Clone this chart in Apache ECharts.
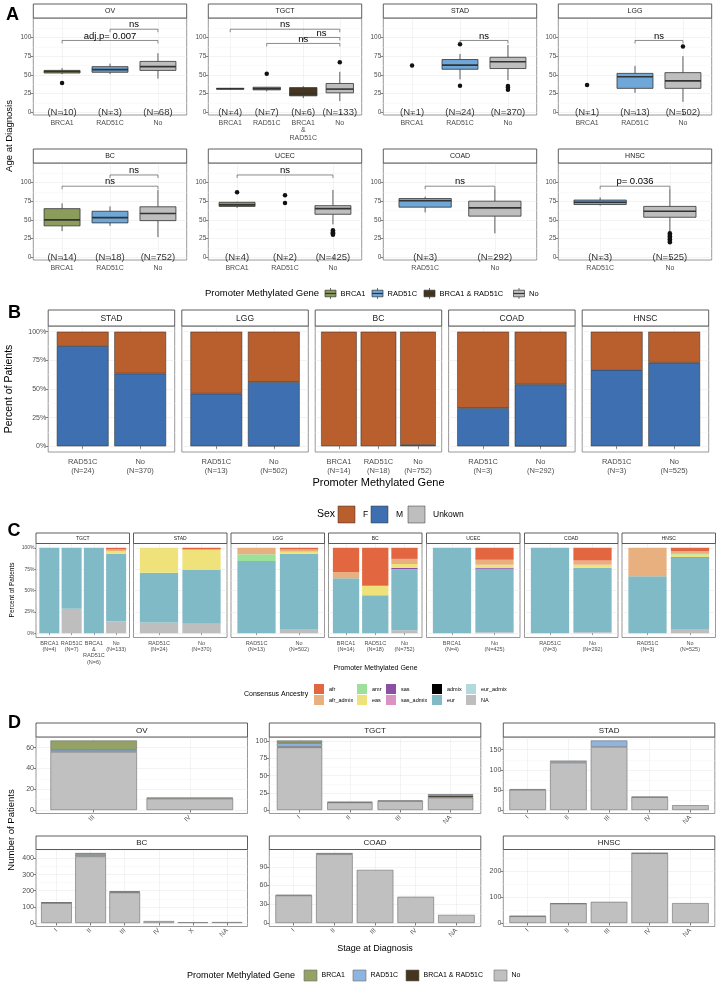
<!DOCTYPE html>
<html>
<head>
<meta charset="utf-8">
<title>Promoter methylation panels</title>
<script src="https://cdn.jsdelivr.net/npm/echarts@6.0.0/dist/echarts.min.js"></script>
<style>
  html, body { margin: 0; padding: 0; background: #fff; }
  #chart { width: 720px; height: 992px; }
</style>
</head>
<body>
<div id="chart"></div>
<script>
var FONT = '"Liberation Sans", Arial, Helvetica, sans-serif';

// ---------- A: age at diagnosis ----------
var ageFacets = ['OV', 'TGCT', 'STAD', 'LGG', 'BC', 'UCEC', 'COAD', 'HNSC'];
var ageGroups = [
  ['BRCA1', 'RAD51C', 'No'],
  ['BRCA1', 'RAD51C', 'BRCA1 & RAD51C', 'No'],
  ['BRCA1', 'RAD51C', 'No'],
  ['BRCA1', 'RAD51C', 'No'],
  ['BRCA1', 'RAD51C', 'No'],
  ['BRCA1', 'RAD51C', 'No'],
  ['RAD51C', 'No'],
  ['RAD51C', 'No']
];
var ageN = [[10, 3, 68], [4, 7, 6, 133], [1, 24, 370], [1, 13, 502], [14, 18, 752], [4, 2, 425], [3, 292], [3, 525]];
// [lower whisker, Q1, median, Q3, upper whisker]; null = only single points drawn
var ageBoxes = [
  [[51, 52.5, 54.5, 56, 59], [51, 53.5, 57, 61, 65], [45, 56, 61, 68, 79]],
  [[30.5, 31, 31.5, 32, 32.5], [28, 30, 31.5, 33.5, 34], [19, 22, 25, 33, 35], [15, 26, 31, 38.5, 54]],
  [null, [44, 57.5, 63, 70.5, 78], [43, 58.5, 67.5, 73.5, 90]],
  [null, [26, 32, 47.5, 52, 62], [14, 32, 42, 53, 75]],
  [[35, 42, 50, 65, 72], [42, 46, 53, 61.5, 68], [27, 49, 58.5, 67.5, 90]],
  [[66, 68, 70, 73.5, 74], null, [44, 57.5, 65, 69, 90]],
  [[60, 67, 75.5, 78.5, 81], [32, 55, 66, 75, 91]],
  [[69, 70.5, 73.5, 76.5, 80], [34, 53.5, 61.5, 68, 91]]
];
var agePoints = [
  [[39], [], []],
  [[], [51.5], [], [67]],
  [[62.5], [91, 35.5], [35, 33, 30]],
  [[36.5], [], [88]],
  [[], [], []],
  [[87], [83, 72.5], [36, 34, 33, 32, 31, 30]],
  [[], []],
  [[], [32, 30, 28, 26, 24, 22, 20]]
];
var ageTests = [
  [['RAD51C', 'No', 111, 'ns'], ['BRCA1', 'No', 96, 'adj.p= 0.007']],
  [['BRCA1', 'No', 111, 'ns'], ['BRCA1 & RAD51C', 'No', 100, 'ns'], ['RAD51C', 'No', 92, 'ns']],
  [['RAD51C', 'No', 96, 'ns']],
  [['RAD51C', 'No', 96, 'ns']],
  [['RAD51C', 'No', 110, 'ns'], ['BRCA1', 'No', 95, 'ns']],
  [['BRCA1', 'No', 110, 'ns']],
  [['RAD51C', 'No', 95, 'ns']],
  [['RAD51C', 'No', 95, 'p= 0.036']]
];
var ageTicks = [0, 25, 50, 75, 100];
var ageMinor = [12.5, 37.5, 62.5, 87.5, 112.5];

// ---------- B: sex ----------
var sexFacets = ['STAD', 'LGG', 'BC', 'COAD', 'HNSC'];
var sexGroups = [['RAD51C', 'No'], ['RAD51C', 'No'], ['BRCA1', 'RAD51C', 'No'], ['RAD51C', 'No'], ['RAD51C', 'No']];
var sexN = [[24, 370], [13, 502], [14, 18, 752], [3, 292], [3, 525]];
var sexF = [[12.5, 36.5], [54, 44], [100, 100, 98.7], [66.7, 46], [33.3, 27]];
var sexM = [[87.5, 63.5], [46, 55.6], [0, 0, 1.3], [33.3, 53.7], [66.7, 73]];
var sexU = [[0, 0], [0, 0.4], [0, 0, 0], [0, 0.3], [0, 0]];
var pctTicks = [0, 25, 50, 75, 100];
var pctMinor = [12.5, 37.5, 62.5, 87.5];

// ---------- C: consensus ancestry (percent) ----------
var ancFacets = ['TGCT', 'STAD', 'LGG', 'BC', 'UCEC', 'COAD', 'HNSC'];
var ancGroups = [
  ['BRCA1', 'RAD51C', 'BRCA1 & RAD51C', 'No'],
  ['RAD51C', 'No'], ['RAD51C', 'No'], ['BRCA1', 'RAD51C', 'No'],
  ['BRCA1', 'No'], ['RAD51C', 'No'], ['RAD51C', 'No']
];
var ancN = [[4, 7, 6, 133], [24, 370], [13, 502], [14, 18, 752], [4, 425], [3, 292], [3, 525]];
var ancAfr       = [[0, 0, 0, 2], [0, 2], [0, 2], [28.6, 44.4, 13], [0, 14], [0, 15], [0, 4]];
var ancAfrAdmix  = [[0, 0, 0, 2], [0, 0], [7.7, 2], [7.1, 0, 6], [0, 6], [0, 5], [33.3, 2]];
var ancAmr       = [[0, 0, 0, 0], [0, 0], [7.7, 1], [0, 0, 0], [0, 0], [0, 0], [0, 2]];
var ancEas       = [[0, 0, 0, 3], [29.2, 24], [0, 2], [0, 11.1, 4.5], [0, 3.5], [0, 3.5], [0, 3]];
var ancSas       = [[0, 0, 0, 0], [0, 0], [0, 0], [0, 0, 1.5], [0, 1], [0, 0], [0, 1]];
var ancSasAdmix  = [[0, 0, 0, 0], [0, 0], [0, 0], [0, 0, 0], [0, 0], [0, 0], [0, 0]];
var ancAdmix     = [[0, 0, 0, 0], [0, 0], [0, 0], [0, 0, 0], [0, 0], [0, 0], [0, 0]];
var ancEur       = [[100, 71.4, 100, 79], [58.3, 63], [84.6, 88], [64.3, 44.4, 71.5], [100, 74.5], [100, 75.5], [66.7, 83]];
var ancEurAdmix  = [[0, 0, 0, 0], [0, 0], [0, 0], [0, 0, 0], [0, 0], [0, 0], [0, 0]];
var ancNA        = [[0, 28.6, 0, 14], [12.5, 11], [0, 5], [0, 0, 3.5], [0, 1], [0, 1], [0, 5]];

// ---------- D: stage at diagnosis (counts) ----------
var stageFacets = ['OV', 'TGCT', 'STAD', 'BC', 'COAD', 'HNSC'];
var stageCats = [
  ['III', 'IV'], ['I', 'II', 'III', 'NA'], ['I', 'II', 'III', 'IV', 'NA'],
  ['I', 'II', 'III', 'IV', 'X', 'NA'], ['I', 'II', 'III', 'IV', 'NA'], ['I', 'II', 'III', 'IV', 'NA']
];
var stageNo     = [[56, 11], [91, 11, 13, 18], [50, 118, 157, 32, 12], [124, 413, 189, 12, 5, 6], [44, 110, 85, 42, 13], [26, 75, 82, 270, 77]];
var stageBoth   = [[0, 0], [1, 1, 1, 3], [0, 0, 0, 0, 0], [0, 0, 0, 0, 0, 0], [0, 0, 0, 0, 0], [0, 0, 0, 0, 0]];
var stageRAD51C = [[2, 0], [5, 0, 0, 2], [2, 5, 16, 1, 0], [2, 12, 4, 0, 0, 0], [1, 2, 0, 0, 0], [1, 1, 0, 1, 0]];
var stageBRCA1  = [[9, 1], [4, 0, 0, 0], [0, 0, 0, 0, 0], [2, 9, 3, 0, 0, 0], [0, 0, 0, 0, 0], [0, 0, 0, 0, 0]];
var stageTicks  = [[0, 20, 40, 60], [0, 25, 50, 75, 100], [0, 50, 100, 150], [0, 100, 200, 300, 400], [0, 30, 60, 90], [0, 100, 200]];

// colours
var geneNames = ['BRCA1', 'RAD51C', 'BRCA1 & RAD51C', 'No'];
var geneColors = { 'BRCA1': '#8b9c5d', 'RAD51C': '#6fa7d8', 'BRCA1 & RAD51C': '#46361f', 'No': '#bebebe' };
var stageColors = { 'BRCA1': '#94a266', 'RAD51C': '#8db5e0', 'BRCA1 & RAD51C': '#45361f', 'No': '#c0c0c0' };
var sexColors = { F: '#b95e2d', M: '#3e6fb0', Unkown: '#bebebe' };
var ancNames = ['afr', 'afr_admix', 'amr', 'eas', 'sas', 'sas_admix', 'admix', 'eur', 'eur_admix', 'NA'];
var ancColors = {
  afr: '#e2663f', afr_admix: '#e9b07f', amr: '#9de09a', eas: '#efe27a', sas: '#8d4fa6',
  sas_admix: '#d992c2', admix: '#000000', eur: '#80bac6', eur_admix: '#b3d9df', NA: '#bebebe'
};

var option = {
  backgroundColor: '#ffffff',
  animation: false,
  textStyle: { fontFamily: FONT },
  grid: [], xAxis: [], yAxis: [], series: [], graphic: []
};

function addText(x, y, s, size, o) {
  o = o || {};
  option.graphic.push({
    type: 'text', x: x, y: y, rotation: o.rot || 0, silent: true, z: 10,
    style: {
      text: s, fill: o.color || '#000', fontSize: size, fontFamily: FONT,
      fontWeight: o.weight || 'normal', align: o.align || 'center', verticalAlign: o.va || 'middle'
    }
  });
}
function addRect(x, y, w, h, fill, stroke, lw) {
  option.graphic.push({
    type: 'rect', silent: true, z: 10, shape: { x: x, y: y, width: w, height: h },
    style: { fill: fill, stroke: stroke || null, lineWidth: lw || 0 }
  });
}
function addLine(x1, y1, x2, y2, stroke, lw) {
  option.graphic.push({
    type: 'line', silent: true, z: 10, shape: { x1: x1, y1: y1, x2: x2, y2: y2 },
    style: { stroke: stroke, lineWidth: lw }
  });
}

// one ggplot-like facet: panel with strip on top, discrete x at 1..n
function facet(p) {
  var gi = option.grid.length;
  option.grid.push({
    left: p.x, top: p.y, width: p.w, height: p.h, show: true,
    borderColor: '#7f7f7f', borderWidth: 0.8, backgroundColor: '#fff'
  });
  var pos = p.labels.map(function (_, i) { return i + 1; });
  var tick = p.tick || 2.5;
  var showY = p.showY !== false;
  var xi = option.xAxis.length;
  option.xAxis.push({
    gridIndex: gi, type: 'value', min: 0.4, max: p.labels.length + 0.6,
    axisLine: { show: false },
    axisTick: { show: true, customValues: pos, length: tick, lineStyle: { color: '#333', width: 0.6 } },
    axisLabel: {
      customValues: pos, formatter: function (v) { return p.labels[Math.round(v) - 1]; },
      fontSize: p.xSize, color: '#4d4d4d', margin: p.xMargin, rotate: p.rot || 0,
      lineHeight: p.xLh, fontFamily: FONT
    },
    splitLine: { show: true, lineStyle: { color: '#ebebeb', width: 0.6 } }
  });
  var yi = option.yAxis.length;
  option.yAxis.push({
    gridIndex: gi, type: 'value', min: p.yMin, max: p.yMax,
    axisLine: { show: false },
    axisTick: { show: showY, customValues: p.yTicks, length: tick, lineStyle: { color: '#333', width: 0.6 } },
    axisLabel: {
      show: showY, customValues: p.yTicks, formatter: p.yFmt || '{value}', fontSize: p.ySize,
      color: '#4d4d4d', margin: p.yMargin || 2, fontFamily: FONT
    },
    splitLine: { show: true, lineStyle: { color: '#ebebeb', width: 0.6 } }
  });
  option.yAxis.push({
    gridIndex: gi, type: 'value', min: p.yMin, max: p.yMax, position: 'left',
    axisLine: { show: false },
    axisTick: { show: false, customValues: p.yMinor },
    axisLabel: { show: false, customValues: p.yMinor },
    splitLine: { show: true, lineStyle: { color: '#f4f4f4', width: 0.5 } }
  });
  addRect(p.x, p.y - p.sh, p.w, p.sh, '#fff', '#4d4d4d', 0.9);
  addText(p.x + p.w / 2, p.y - p.sh / 2 + 0.5, p.title, p.sSize, { color: '#1a1a1a' });
  return { x: xi, y: yi };
}

function stackBar(ax, stack, vals, color, bw, border) {
  return {
    type: 'bar', xAxisIndex: ax.x, yAxisIndex: ax.y, stack: stack, barWidth: bw,
    encode: { x: 1, y: 0 }, silent: true,
    data: vals.map(function (v, i) { return [v > 0 ? v : '-', i + 1]; }),
    itemStyle: { color: color, borderColor: border ? border.color : null, borderWidth: border ? border.width : 0 }
  };
}

function boxRenderer(cols) {
  return function (params, api) {
    var x = api.value(0);
    var lo = api.coord([x, api.value(1)]);
    var q1 = api.coord([x, api.value(2)]);
    var md = api.coord([x, api.value(3)]);
    var q3 = api.coord([x, api.value(4)]);
    var hi = api.coord([x, api.value(5)]);
    var hw = api.size([0.375, 0])[0];
    var ln = { stroke: '#333', lineWidth: 0.8 };
    return {
      type: 'group', children: [
        { type: 'line', shape: { x1: lo[0], y1: lo[1], x2: q1[0], y2: q1[1] }, style: ln },
        { type: 'line', shape: { x1: q3[0], y1: q3[1], x2: hi[0], y2: hi[1] }, style: ln },
        { type: 'rect', shape: { x: q3[0] - hw, y: q3[1], width: 2 * hw, height: Math.max(q1[1] - q3[1], 0.8) },
          style: { fill: cols[params.dataIndex], stroke: '#333', lineWidth: 0.8 } },
        { type: 'line', shape: { x1: md[0] - hw, y1: md[1], x2: md[0] + hw, y2: md[1] }, style: { stroke: '#333', lineWidth: 1.6 } }
      ]
    };
  };
}

function bracketRenderer(tests) {
  return function (params, api) {
    var y = api.value(2);
    var a = api.coord([api.value(0), y]), b = api.coord([api.value(1), y]);
    var a0 = api.coord([api.value(0), y - 4]), b0 = api.coord([api.value(1), y - 4]);
    return {
      type: 'group', children: [
        { type: 'polyline', shape: { points: [a0, a, b, b0] }, style: { stroke: '#5a5a5a', lineWidth: 0.7, fill: null } },
        { type: 'text', x: (a[0] + b[0]) / 2, y: a[1] + 0.5,
          style: { text: tests[params.dataIndex][3], fontSize: 9.5, fontFamily: FONT, fill: '#000', align: 'center', verticalAlign: 'bottom' } }
      ]
    };
  };
}

// ---------- build A ----------
var colsA = [33.3, 208.3, 383.3, 558.3];
var stripTopA = [4, 149];
ageFacets.forEach(function (name, f) {
  var groups = ageGroups[f];
  var ax = facet({
    x: colsA[f % 4], y: stripTopA[Math.floor(f / 4)] + 14, w: 153.4, h: 97, sh: 14,
    title: name, sSize: 7,
    labels: groups.map(function (g) { return g.replace(' & ', '\n&\n'); }),
    xSize: 7, xLh: 7.3, xMargin: 4.5,
    yMin: -3.6, yMax: 126, yTicks: ageTicks, yMinor: ageMinor, ySize: 6.5
  });
  var boxData = [], boxCols = [];
  ageBoxes[f].forEach(function (b, i) {
    if (b) { boxData.push([i + 1].concat(b)); boxCols.push(geneColors[groups[i]]); }
  });
  option.series.push({ type: 'custom', xAxisIndex: ax.x, yAxisIndex: ax.y, data: boxData, z: 3, silent: true, renderItem: boxRenderer(boxCols) });
  var pts = [];
  agePoints[f].forEach(function (list, i) { list.forEach(function (v) { pts.push([i + 1, v]); }); });
  option.series.push({ type: 'scatter', xAxisIndex: ax.x, yAxisIndex: ax.y, data: pts, symbolSize: 4.5, itemStyle: { color: '#111', opacity: 1 }, z: 4, silent: true });
  option.series.push({
    type: 'scatter', xAxisIndex: ax.x, yAxisIndex: ax.y, symbolSize: 1, itemStyle: { color: 'rgba(0,0,0,0)' }, z: 5, silent: true,
    data: ageN[f].map(function (n, i) { return { value: [i + 1, 0], label: { formatter: '(N=' + n + ')' } }; }),
    label: { show: true, position: 'inside', fontSize: 9.5, color: '#000', fontFamily: FONT }
  });
  option.series.push({
    type: 'custom', xAxisIndex: ax.x, yAxisIndex: ax.y, z: 6, silent: true,
    data: ageTests[f].map(function (t) { return [groups.indexOf(t[0]) + 1, groups.indexOf(t[1]) + 1, t[2]]; }),
    renderItem: bracketRenderer(ageTests[f])
  });
});
addText(12.5, 15, 'A', 18, { weight: 'bold' });
addText(9, 136, 'Age at Diagnosis', 9.5, { rot: Math.PI / 2 });
addText(205, 293.5, 'Promoter Methylated Gene', 9.5, { align: 'left' });
var keyXA = [325, 372, 424, 513.5];
geneNames.forEach(function (g, i) {
  var x = keyXA[i], y = 288;
  addLine(x + 5.5, y, x + 5.5, y + 11, '#333', 0.7);
  addRect(x, y + 2.2, 11, 6.6, geneColors[g], '#333', 0.7);
  addLine(x, y + 5.5, x + 11, y + 5.5, '#333', 1.2);
  addText(x + 15.5, 293.5, g, 7.5, { align: 'left' });
});

// ---------- build B ----------
var colsB = [48.2, 181.8, 315.2, 448.6, 582.2];
sexFacets.forEach(function (name, f) {
  var labels = sexGroups[f].map(function (g, i) { return g + '\n(N=' + sexN[f][i] + ')'; });
  var ax = facet({
    x: colsB[f], y: 326, w: 126.5, h: 126, sh: 16, title: name, sSize: 8.5,
    labels: labels, xSize: 7.5, xLh: 9.5, xMargin: 5, showY: f === 0,
    yMin: -5, yMax: 105, yTicks: pctTicks, yMinor: pctMinor, ySize: 7,
    yFmt: function (v) { return v + '%'; }
  });
  var bw = 0.9 * 126.5 / (labels.length + 0.2);
  var border = { color: '#2b2b2b', width: 0.5 };
  option.series.push(stackBar(ax, 'sex' + f, sexU[f], sexColors.Unkown, bw, border));
  option.series.push(stackBar(ax, 'sex' + f, sexM[f], sexColors.M, bw, border));
  option.series.push(stackBar(ax, 'sex' + f, sexF[f], sexColors.F, bw, border));
});
addText(14.5, 313.5, 'B', 18, { weight: 'bold' });
addText(9, 389, 'Percent of Patients', 10.5, { rot: Math.PI / 2 });
addText(378.5, 483, 'Promoter Methylated Gene', 11);
addText(317, 514.5, 'Sex', 10.5, { align: 'left' });
[['F', 338], ['M', 371], ['Unkown', 408]].forEach(function (k) {
  addRect(k[1], 506, 17, 17, sexColors[k[0]], '#333', 0.5);
  addText(k[1] + 25, 514.5, k[0], 8.5, { align: 'left' });
});

// ---------- build C ----------
var colsC = [36, 133.5, 231, 328.5, 426.5, 524.5, 622];
var ancSeries = [
  ['NA', ancNA], ['eur_admix', ancEurAdmix], ['eur', ancEur], ['admix', ancAdmix], ['sas_admix', ancSasAdmix],
  ['sas', ancSas], ['eas', ancEas], ['amr', ancAmr], ['afr_admix', ancAfrAdmix], ['afr', ancAfr]
];
ancFacets.forEach(function (name, f) {
  var labels = ancGroups[f].map(function (g, i) { return g.replace(' & ', '\n&\n') + '\n(N=' + ancN[f][i] + ')'; });
  var ax = facet({
    x: colsC[f], y: 543.5, w: 93.5, h: 94, sh: 10.5, title: name, sSize: 5,
    labels: labels, xSize: 5.5, xLh: 6.3, xMargin: 2.5, tick: 1.5, showY: f === 0,
    yMin: -5, yMax: 105, yTicks: pctTicks, yMinor: pctMinor, ySize: 5, yMargin: 1.5,
    yFmt: function (v) { return v + '%'; }
  });
  var bw = 0.9 * 93.5 / (labels.length + 0.2);
  ancSeries.forEach(function (s) {
    option.series.push(stackBar(ax, 'anc' + f, s[1][f], ancColors[s[0]], bw, null));
  });
});
addText(14, 531.5, 'C', 18, { weight: 'bold' });
addText(12, 590, 'Percent of Patients', 6.5, { rot: Math.PI / 2 });
addText(375.5, 668, 'Promoter Methylated Gene', 7);
addText(244, 694.5, 'Consensus Ancestry', 7, { align: 'left' });
var keyXC = [314, 357, 386, 432, 466];
ancNames.forEach(function (a, i) {
  var col = Math.floor(i / 2), row = i % 2;
  var x = keyXC[col], y = 684 + row * 11;
  addRect(x, y, 10, 10, ancColors[a], null, 0);
  addText(x + 15, y + 5, a, 5.5, { align: 'left' });
});

// ---------- build D ----------
var colsD = [36, 269.3, 503.3];
var rowsD = [{ y: 737, h: 76.5, sh: 14 }, { y: 849.5, h: 77, sh: 13.5 }];
stageFacets.forEach(function (name, f) {
  var cats = stageCats[f];
  var maxStack = 0;
  cats.forEach(function (_, i) {
    maxStack = Math.max(maxStack, stageNo[f][i] + stageBoth[f][i] + stageRAD51C[f][i] + stageBRCA1[f][i]);
  });
  var ticks = stageTicks[f], step = ticks[1] - ticks[0];
  var yMax = maxStack * 1.05, yMin = -maxStack * 0.05;
  var minor = ticks.map(function (t) { return t + step / 2; }).filter(function (v) { return v <= yMax; });
  var r = rowsD[Math.floor(f / 3)];
  var ax = facet({
    x: colsD[f % 3], y: r.y, w: 211.5, h: r.h, sh: r.sh, title: name, sSize: 8,
    labels: cats, xSize: 6.5, xMargin: 3, rot: 45,
    yMin: yMin, yMax: yMax, yTicks: ticks, yMinor: minor, ySize: 7
  });
  var bw = 0.9 * 211.5 / (cats.length + 0.2);
  var border = { color: '#6b6b6b', width: 0.6 };
  option.series.push(stackBar(ax, 'st' + f, stageNo[f], stageColors['No'], bw, border));
  option.series.push(stackBar(ax, 'st' + f, stageBoth[f], stageColors['BRCA1 & RAD51C'], bw, border));
  option.series.push(stackBar(ax, 'st' + f, stageRAD51C[f], stageColors['RAD51C'], bw, border));
  option.series.push(stackBar(ax, 'st' + f, stageBRCA1[f], stageColors['BRCA1'], bw, border));
});
addText(14.5, 723.5, 'D', 18, { weight: 'bold' });
addText(11.5, 830, 'Number of Patients', 9.5, { rot: Math.PI / 2 });
addText(375, 949, 'Stage at Diagnosis', 9);
addText(187, 975.5, 'Promoter Methylated Gene', 9, { align: 'left' });
var keyXD = [304, 353, 406, 494];
geneNames.forEach(function (g, i) {
  addRect(keyXD[i], 970, 13, 11, stageColors[g], '#6b6b6b', 0.6);
  addText(keyXD[i] + 17.5, 975.5, g, 7, { align: 'left' });
});

var chart = echarts.init(document.getElementById('chart'), null, { renderer: 'canvas' });
chart.setOption(option);
</script>
</body>
</html>
